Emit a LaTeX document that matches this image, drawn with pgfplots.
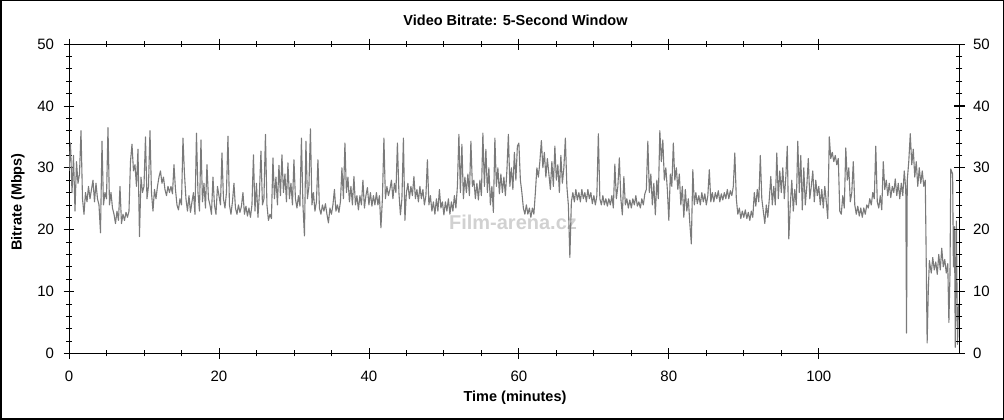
\documentclass[border=0pt]{standalone}
\usepackage{fontspec}
\setmainfont{Liberation Sans}
\usepackage{pgfplots}
\pgfplotsset{compat=1.18}
\begin{document}
\begin{tikzpicture}
\useasboundingbox (0,0) rectangle (1004pt,420pt);
\draw[black,line width=1.5pt] (0.75pt,0.75pt) rectangle (1003.25pt,419.25pt);
\node[font=\bfseries\fontsize{20}{22}\selectfont, text=black!18] at (513pt,198pt) {Film-arena.cz};
\pgfplotsset{
  common/.style={
    at={(69pt,66.5pt)}, anchor=south west,
    scale only axis, width=890pt, height=309.5pt,
    xmin=0, xmax=118.7, ymin=0, ymax=50,
    ytick={0,10,...,50}, minor y tick num=4,
    tick align=center, major tick length=11pt, minor tick length=6pt,
    /pgf/number format/assume math mode=true,
    tick label style={font=\fontsize{15}{17}\selectfont, text=black},
    axis line style={black, line width=0.8pt},
    every tick/.style={black, line width=0.8pt},
  }
}
\begin{axis}[common,
  xtick={0,20,...,100}, minor x tick num=3,
  tick pos=both, xticklabel pos=lower, yticklabel pos=left,
  xticklabel style={yshift=-8pt},
  yticklabel style={xshift=-6pt},
]
\addplot[color=black!52, line width=1.1pt, line join=round] coordinates {
(0,29.5)(0.2,34)(0.4,26)(0.6,32)(0.8,23)
(1,31)(1.2,27.5)(1.4,29)(1.6,36)(1.8,25)
(2,22.5)(2.2,26)(2.4,24.5)(2.6,27)(2.8,25)
(3,26.5)(3.2,28)(3.4,24.5)(3.6,27.5)(3.8,25)
(4,24)(4.2,19.5)(4.4,34.3)(4.6,24)(4.8,26)
(5,25)(5.2,36.5)(5.4,24)(5.6,26)(5.8,23.5)
(6,22.5)(6.2,21)(6.4,23)(6.6,21.5)(6.8,27)
(7,21)(7.2,22.5)(7.4,21.5)(7.6,22.8)(7.8,22)
(8,23)(8.2,31)(8.4,33.8)(8.6,29.5)(8.8,30.5)
(9,27)(9.2,33)(9.4,18.9)(9.6,28.5)(9.8,26)
(10,27)(10.2,35)(10.4,25)(10.6,27)(10.8,36)
(11,26)(11.2,23)(11.4,26.5)(11.6,25)(11.8,27)
(12,28.5)(12.2,29.5)(12.4,27.5)(12.6,28.5)(12.8,26.5)
(13,25.5)(13.2,27)(13.4,26)(13.6,27)(13.8,25.8)
(14,30.5)(14.2,26.5)(14.4,24)(14.6,23.2)(14.8,25)
(15,24)(15.2,34.8)(15.4,29)(15.6,25)(15.8,23)
(16,25.5)(16.2,22.8)(16.4,24.5)(16.6,26)(16.8,22.5)
(17,35.6)(17.2,26)(17.4,23)(17.6,34.5)(17.8,24.5)
(18,27.5)(18.2,23.5)(18.4,30.5)(18.6,25)(18.8,24)
(19,22.5)(19.2,28.5)(19.4,24)(19.6,22.5)(19.8,27)
(20,25.5)(20.2,24)(20.4,32.4)(20.6,25)(20.8,23.5)
(21,26)(21.2,35.1)(21.4,24)(21.6,22.5)(21.8,24.5)
(22,27.5)(22.2,23.5)(22.4,22.5)(22.6,24)(22.8,22.8)
(23,23.8)(23.2,26)(23.4,22.5)(23.6,23.8)(23.8,22.2)
(24,23.5)(24.2,22)(24.4,24)(24.6,32.1)(24.8,23)
(25,27.5)(25.2,22)(25.4,26)(25.6,32.7)(25.8,24)
(26,25)(26.2,35.4)(26.4,24)(26.6,21.5)(26.8,22.5)
(27,21.8)(27.2,31.6)(27.4,25)(27.6,28.5)(27.8,24)
(28,30.4)(28.2,25.5)(28.4,32.1)(28.6,26)(28.8,29)
(29,24.5)(29.2,30.8)(29.4,25)(29.6,27.5)(29.8,24)
(30,31.3)(30.2,25)(30.4,23.5)(30.6,25.5)(30.8,23.8)
(31,34.8)(31.2,24)(31.4,19)(31.6,34.3)(31.8,25)
(32,27)(32.2,36.3)(32.4,24)(32.6,26)(32.8,23)
(33,24.5)(33.2,31.3)(33.4,23.5)(33.6,22.5)(33.8,24)
(34,23)(34.2,24.2)(34.4,22.5)(34.6,21.1)(34.8,23.5)
(35,22.5)(35.2,24)(35.4,26.5)(35.6,23)(35.8,24)
(36,22.8)(36.2,24.5)(36.4,30)(36.6,25)(36.8,34)
(37,26)(37.2,28.5)(37.4,24.5)(37.6,27)(37.8,24)
(38,28.6)(38.2,24)(38.4,25.5)(38.6,23.2)(38.8,25.5)
(39,24)(39.2,28)(39.4,23.5)(39.6,25.5)(39.8,26.8)
(40,24)(40.2,26)(40.4,23.8)(40.6,25.5)(40.8,24)
(41,26)(41.2,24)(41.4,25.5)(41.6,20.3)(41.8,25)
(42,34.8)(42.2,25)(42.4,27)(42.6,25.5)(42.8,26.5)
(43,28)(43.2,25)(43.4,27.5)(43.6,26)(43.8,34)
(44,26)(44.2,22.4)(44.4,25)(44.6,34.8)(44.8,21.5)
(45,26)(45.2,27.5)(45.4,25)(45.6,27)(45.8,25.5)
(46,28.6)(46.2,25)(46.4,26.5)(46.6,24.5)(46.8,27)
(47,25)(47.2,26.5)(47.4,24)(47.6,25.5)(47.8,31.3)
(48,24)(48.2,25.5)(48.4,23)(48.6,24.5)(48.8,22.5)
(49,25)(49.2,23)(49.4,26.5)(49.6,23.5)(49.8,24.5)
(50,22.4)(50.2,24.5)(50.4,23)(50.6,25)(50.8,22.5)
(51,24.5)(51.2,23)(51.4,25.5)(51.6,23.5)(51.8,27)
(52,35.4)(52.2,26)(52.4,33.8)(52.6,25)(52.8,28.5)
(53,26)(53.2,29)(53.4,25.5)(53.6,34.3)(53.8,27)
(54,28)(54.2,25)(54.4,27.5)(54.6,24.8)(54.8,28)
(55,25.5)(55.2,35.6)(55.4,27)(55.6,33)(55.8,26)
(56,30)(56.2,24)(56.4,27)(56.6,22.8)(56.8,34.8)
(57,27)(57.2,30)(57.4,25.8)(57.6,29)(57.8,26)
(58,28.5)(58.2,25.5)(58.4,29.5)(58.6,35.4)(58.8,27)
(59,30)(59.2,26.5)(59.4,32.5)(59.6,28)(59.8,33.5)
(60,34)(60.2,28)(60.4,26)(60.6,23.5)(60.8,22.5)
(61,24)(61.2,22.5)(61.4,23.5)(61.6,22)(61.8,23.5)
(62,22.5)(62.2,26)(62.4,30)(62.6,28.5)(62.8,31)
(63,34.4)(63.2,30)(63.4,32.5)(63.6,28.5)(63.8,31.5)
(64,29)(64.2,26.5)(64.4,31)(64.6,27)(64.8,33.5)
(65,28)(65.2,30.5)(65.4,26)(65.6,32)(65.8,27.5)
(66,30)(66.2,34.8)(66.4,27)(66.6,24)(66.8,15.5)
(67,24.5)(67.2,26)(67.4,24.5)(67.6,26.5)(67.8,24.8)
(68,26)(68.2,24.5)(68.4,26.5)(68.6,25)(68.8,26)
(69,24.5)(69.2,26.5)(69.4,25)(69.6,26)(69.8,24.2)
(70,25.5)(70.2,24)(70.4,25.5)(70.6,35.5)(70.8,25)
(71,24)(71.2,25.5)(71.4,24)(71.6,25)(71.8,23.8)
(72,25)(72.2,24)(72.4,25.5)(72.6,23.5)(72.8,30.6)
(73,25)(73.2,27)(73.4,31.6)(73.6,25)(73.8,22.4)
(74,28.6)(74.2,24)(74.4,25)(74.6,23.5)(74.8,24.8)
(75,23.5)(75.2,25)(75.4,24)(75.6,25.5)(75.8,23.8)
(76,24.5)(76.2,23.5)(76.4,25)(76.6,24)(76.8,25.8)
(77,26.5)(77.2,34.3)(77.4,26)(77.6,29)(77.8,24)
(78,27.5)(78.2,22.4)(78.4,28)(78.6,25)(78.8,36)
(79,31)(79.2,34.5)(79.4,28)(79.6,30)(79.8,26.5)
(80,21.5)(80.2,29)(80.4,27)(80.6,34)(80.8,28)
(81,30)(81.2,26.5)(81.4,29)(81.6,24)(81.8,27)
(82,22)(82.2,26.5)(82.4,23)(82.6,25)(82.8,21)
(83,17.7)(83.2,29.7)(83.4,24)(83.6,26)(83.8,24.2)
(84,25.5)(84.2,24)(84.4,26)(84.6,24.5)(84.8,25.8)
(85,24)(85.2,25.5)(85.4,29.7)(85.6,24.5)(85.8,26)
(86,24.5)(86.2,26)(86.4,25)(86.6,26.3)(86.8,24.5)
(87,25.8)(87.2,24.8)(87.4,26)(87.6,25)(87.8,26.5)
(88,25)(88.2,26.3)(88.4,25.5)(88.6,27)(88.8,32.4)
(89,25)(89.2,22.5)(89.4,23.5)(89.6,21.8)(89.8,23)
(90,22)(90.2,23.2)(90.4,21.8)(90.6,22.8)(90.8,21.5)
(91,23)(91.2,22)(91.4,26)(91.6,23.8)(91.8,26.5)
(92,24.5)(92.2,32)(92.4,25)(92.6,23)(92.8,21)
(93,24)(93.2,22)(93.4,25)(93.6,28.6)(93.8,24)
(94,27)(94.2,24)(94.4,32.4)(94.6,25)(94.8,29.5)
(95,26)(95.2,30)(95.4,25)(95.6,28.5)(95.8,33.5)
(96,18.5)(96.2,24)(96.4,28)(96.6,23)(96.8,26.5)
(97,24)(97.2,34.3)(97.4,26)(97.6,32)(97.8,23.2)
(98,30)(98.2,24)(98.4,27)(98.6,31.5)(98.8,25)
(99,27)(99.2,29.5)(99.4,24.5)(99.6,28)(99.8,25.5)
(100,27)(100.2,24)(100.4,26.5)(100.6,23.5)(100.8,27)
(101,24.5)(101.2,21.8)(101.4,35)(101.6,31.5)(101.8,32.5)
(102,31)(102.2,32)(102.4,30.5)(102.6,31.5)(102.8,23)
(103,22.5)(103.2,25.5)(103.4,23.5)(103.6,33.2)(103.8,28)
(104,30)(104.2,24.5)(104.4,26)(104.6,31)(104.8,24)
(105,22.5)(105.2,23.8)(105.4,22.2)(105.6,23.5)(105.8,22)
(106,23.5)(106.2,22.5)(106.4,24)(106.6,23.5)(106.8,25)
(107,24)(107.2,26)(107.4,25)(107.6,33.5)(107.8,24.5)
(108,23.5)(108.2,25.5)(108.4,23.2)(108.6,31)(108.8,26.5)
(109,28)(109.2,25.5)(109.4,27.5)(109.6,25.2)(109.8,27)
(110,26)(110.2,28.2)(110.4,25.5)(110.6,27.5)(110.8,25)
(111,27.5)(111.2,25.5)(111.4,29.5)(111.6,26.5)(111.7,3.3)(111.8,28)
(112,31)(112.2,35.5)(112.4,30.5)(112.6,33)(112.8,28.5)
(113,31)(113.2,27)(113.4,30)(113.6,27.5)(113.8,29.5)
(114,27)(114.2,28)(114.3,18)(114.45,1.7)(114.6,10)(114.75,15)
(115,13)(115.2,15.5)(115.4,13.5)(115.6,14.8)(115.8,12.8)
(116,16)(116.2,13.5)(116.4,17)(116.6,14)(116.8,15.2)
(117,13)(117.2,14.5)(117.35,5)(117.5,13)(117.6,29.8)(117.85,29)(117.95,14)
(118.1,20.5)(118.2,1)(118.35,21.4)(118.5,1.5)(118.65,8)
};
\end{axis}
\begin{axis}[common,
  hide x axis, axis y line*=right,
  yticklabel style={xshift=5pt},
]
\addplot[draw=none] coordinates {(0,0)};
\end{axis}
\node[font=\bfseries\fontsize{14.5}{17}\selectfont] at (515.5pt,400pt) {Video Bitrate: 5-Second Window};
\node[font=\bfseries\fontsize{14.5}{17}\selectfont] at (515pt,22pt) {Time (minutes)};
\node[font=\bfseries\fontsize{14.5}{17}\selectfont, rotate=90] at (18pt,218pt) {Bitrate (Mbps)};
\end{tikzpicture}
\end{document}
